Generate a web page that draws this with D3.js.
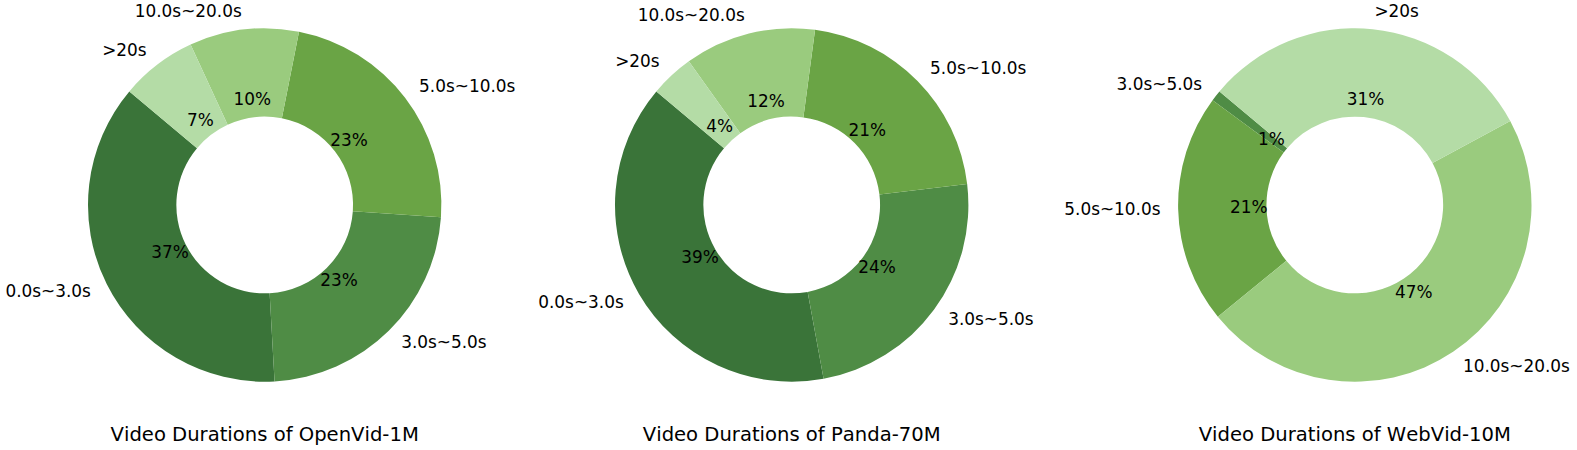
<!DOCTYPE html>
<html>
<head>
<meta charset="utf-8">
<script src="https://cdn.jsdelivr.net/npm/d3@7"></script>
<style>
  html, body { margin: 0; padding: 0; background: #fff; }
  svg { display: block; }
  text { font-family: "DejaVu Sans", sans-serif; fill: #000; font-kerning: none; }
</style>
</head>
<body>
<svg id="chart" width="1577" height="450"></svg>
<script>
// ---- data ----
const categories = ["0.0s~3.0s", "3.0s~5.0s", "5.0s~10.0s", "10.0s~20.0s", ">20s"];
const categoryColors = ["#3a7439", "#4f8c45", "#6aa445", "#9acb7e", "#b4dca6"];

const titles = ["Video Durations of OpenVid-1M", "Video Durations of Panda-70M", "Video Durations of WebVid-10M"];

const openvidLabels = ["0.0s~3.0s", "3.0s~5.0s", "5.0s~10.0s", "10.0s~20.0s", ">20s"];
const openvidValues = [37, 23, 23, 10, 7];

const pandaLabels = ["0.0s~3.0s", "3.0s~5.0s", "5.0s~10.0s", "10.0s~20.0s", ">20s"];
const pandaValues = [39, 24, 21, 12, 4];

const webvidLabels = ["3.0s~5.0s", "5.0s~10.0s", "10.0s~20.0s", ">20s"];
const webvidValues = [1, 21, 47, 31];

// ---- layout ----
const centersX = [264.7, 791.7, 1354.8];
const centerY = 205;
const outerR = 176.7;
const innerR = outerR * 0.5;
const startDeg = 140;      // matplotlib startangle, counter-clockwise
const fontSize = 16.9;
const titleSize = 19.6;

const svg = d3.select("#chart");
const color = d3.scaleOrdinal().domain(categories).range(categoryColors);

const charts = [
  { labels: openvidLabels, values: openvidValues },
  { labels: pandaLabels, values: pandaValues },
  { labels: webvidLabels, values: webvidValues }
];

const toRad = d => d * Math.PI / 180;
const pie = d3.pie()
  .sort(null)
  .value(d => d.value)
  .startAngle(toRad(90 - startDeg))
  .endAngle(toRad(90 - startDeg - 360));

const arc = d3.arc().innerRadius(innerR).outerRadius(outerR);

charts.forEach((c, i) => {
  const data = c.labels.map((l, j) => ({ label: l, value: c.values[j] }));
  const total = d3.sum(c.values);
  const g = svg.append("g").attr("transform", `translate(${centersX[i]},${centerY})`);
  const arcs = pie(data);

  g.selectAll("path.slice").data(arcs).join("path")
    .attr("class", "slice")
    .attr("d", arc)
    .attr("fill", d => color(d.data.label));

  const labelPos = (d, k) => {
    const a = (d.startAngle + d.endAngle) / 2;
    return [Math.sin(a) * outerR * k, -Math.cos(a) * outerR * k];
  };

  // category labels
  g.selectAll("text.lab").data(arcs).join("text")
    .attr("class", "lab")
    .attr("x", d => labelPos(d, 1.1)[0])
    .attr("y", d => labelPos(d, 1.1)[1])
    .attr("dy", "0.3em")
    .attr("text-anchor", d => labelPos(d, 1.1)[0] < 0 ? "end" : "start")
    .style("font-size", fontSize + "px")
    .text(d => d.data.label);

  // percentage labels
  g.selectAll("text.pct").data(arcs).join("text")
    .attr("class", "pct")
    .attr("x", d => labelPos(d, 0.6)[0])
    .attr("y", d => labelPos(d, 0.6)[1])
    .attr("dy", "0.3em")
    .attr("text-anchor", "middle")
    .style("font-size", fontSize + "px")
    .text(d => Math.round(d.data.value / total * 100) + "%");

  svg.append("text")
    .attr("x", centersX[i])
    .attr("y", 440.5)
    .attr("text-anchor", "middle")
    .style("font-size", titleSize + "px")
    .text(titles[i]);
});
</script>
</body>
</html>
